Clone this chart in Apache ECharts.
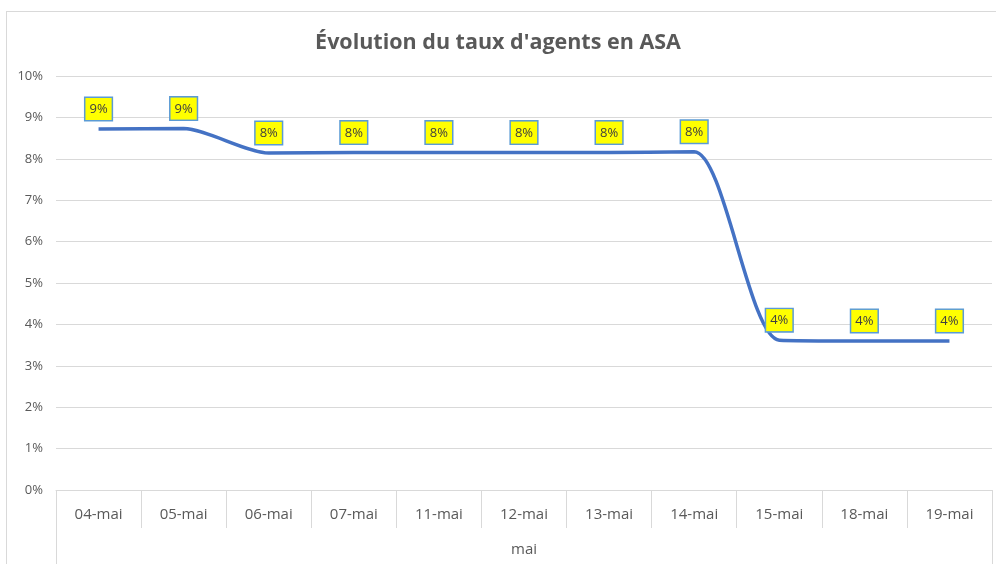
<!DOCTYPE html>
<html>
<head>
<meta charset="utf-8">
<script src="https://cdn.jsdelivr.net/npm/echarts@6/dist/echarts.min.js"></script>
<style>
html,body{margin:0;padding:0;background:#fff;}
#frame{position:absolute;left:6px;top:11px;width:1200px;height:800px;border:1.5px solid #d9d9d9;box-sizing:border-box;}
#chart{position:absolute;left:0;top:0;width:996px;height:564px;}
</style>
</head>
<body>
<div id="frame"></div>
<div id="chart"></div>
<script>
const titleText = "Évolution du taux d'agents en ASA";
const categories = ['04-mai','05-mai','06-mai','07-mai','11-mai','12-mai','13-mai','14-mai','15-mai','18-mai','19-mai'];
const groupLabels = ['mai'];
const rateValues = [8.72, 8.73, 8.14, 8.15, 8.15, 8.15, 8.15, 8.17, 3.62, 3.6, 3.6];
const yTicks = { min: 0, max: 10, interval: 1 };

const chart = echarts.init(document.getElementById('chart'));
const txt = '#595959';
const grid = '#d9d9d9';
chart.setOption({
  animation: false,
  backgroundColor: 'transparent',
  title: {
    text: titleText,
    left: 'center',
    top: 27,
    textStyle: { fontFamily: 'Open Sans', fontWeight: 'bold', fontSize: 21.5, color: txt }
  },
  grid: { left: 56, right: 4, top: 76, bottom: 74 },
  xAxis: [{
    type: 'category',
    data: categories,
    boundaryGap: true,
    axisLine: { show: true, lineStyle: { color: grid, width: 1 } },
    axisTick: { show: true, interval: 0, length: 38, lineStyle: { color: grid, width: 1 } },
    axisLabel: { interval: 0, margin: 17, color: txt, fontFamily: 'Open Sans', fontSize: 15 }
  }, {
    type: 'category',
    position: 'bottom',
    data: groupLabels,
    boundaryGap: true,
    axisLine: { show: false },
    axisTick: { show: true, interval: 0, length: 80, lineStyle: { color: grid, width: 1 } },
    axisLabel: { margin: 52, color: txt, fontFamily: 'Open Sans', fontSize: 15 }
  }],
  yAxis: {
    type: 'value',
    min: yTicks.min, max: yTicks.max, interval: yTicks.interval,
    axisLine: { show: false },
    axisTick: { show: false },
    splitLine: { lineStyle: { color: grid, width: 1 } },
    axisLabel: { formatter: '{value}%', margin: 13, color: txt, fontFamily: 'Open Sans', fontSize: 13 }
  },
  series: [{
    type: 'line',
    data: rateValues,
    smooth: 0.25,
    symbol: 'circle',
    symbolSize: 0,
    showSymbol: true,
    lineStyle: { color: '#4472C4', width: 3.5 },
    itemStyle: { color: '#4472C4' },
    label: {
      show: true,
      position: 'top',
      distance: 9,
      formatter: p => Math.round(p.value) + '%',
      backgroundColor: '#FFFF00',
      borderColor: '#5B9BD5',
      borderWidth: 1.5,
      padding: [4, 4, 3, 4],
      lineHeight: 15,
      color: '#404040',
      fontFamily: 'Open Sans',
      fontSize: 13
    }
  }]
});
</script>
</body>
</html>
